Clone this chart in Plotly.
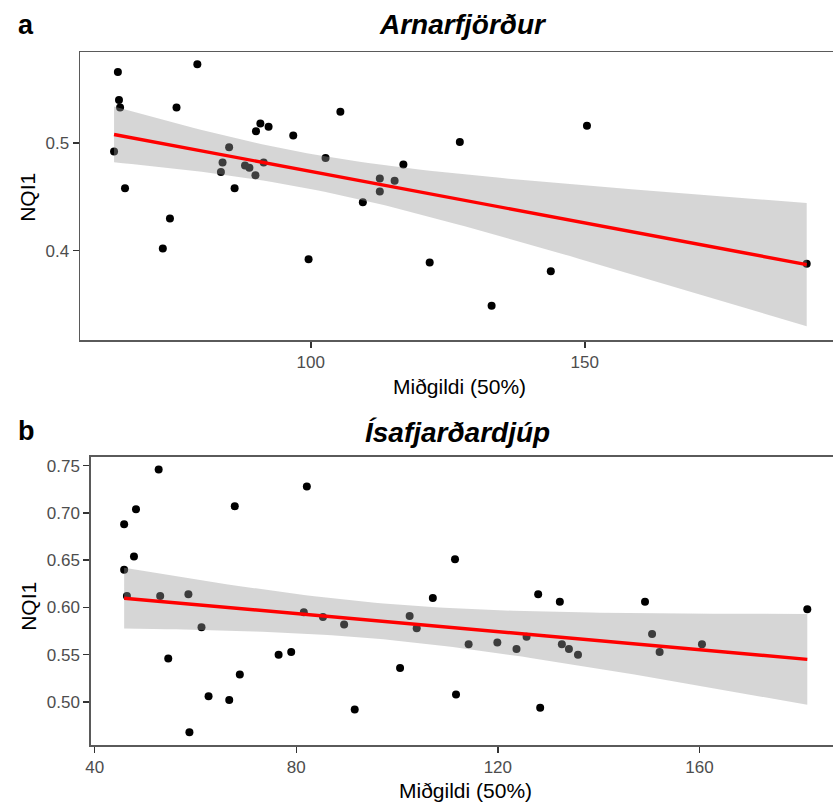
import numpy as np
import plotly.graph_objects as go

# ---- data ----
a_title = "Arnarfjörður"
a_x = [64.1, 64.8, 65.0, 65.2, 66.1, 73.0, 74.3, 75.5, 79.3, 83.6, 83.9, 85.1, 86.1, 88.0,
       88.8, 89.9, 90.0, 90.8, 91.4, 92.3, 96.8, 99.6, 102.7, 105.4, 109.5, 112.6, 112.6,
       115.3, 116.9, 121.7, 127.2, 133.0, 143.8, 150.4, 190.5]
a_y = [0.492, 0.566, 0.540, 0.533, 0.458, 0.402, 0.430, 0.533, 0.573, 0.473, 0.482, 0.496,
       0.458, 0.479, 0.477, 0.470, 0.511, 0.518, 0.482, 0.515, 0.507, 0.392, 0.486, 0.529,
       0.445, 0.467, 0.455, 0.465, 0.480, 0.389, 0.501, 0.349, 0.381, 0.516, 0.388]
a_xticks = [100, 150]
a_yticks = [0.4, 0.5]

b_title = "Ísafjarðardjúp"
b_x = [45.85, 45.85, 46.4, 47.8, 48.2, 52.7, 53.0, 54.6, 58.6, 58.8, 61.2, 62.6, 66.7, 67.8,
       68.8, 76.5, 79.0, 81.5, 82.1, 85.3, 89.5, 91.6, 100.6, 102.5, 103.9, 107.1, 111.5,
       111.7, 114.2, 119.9, 123.7, 125.7, 128.0, 128.4, 132.3, 132.7, 134.1, 135.9, 149.2,
       150.6, 152.1, 160.5, 181.4]
b_y = [0.688, 0.640, 0.612, 0.654, 0.704, 0.746, 0.612, 0.546, 0.614, 0.468, 0.579, 0.506,
       0.502, 0.707, 0.529, 0.550, 0.553, 0.595, 0.728, 0.590, 0.582, 0.492, 0.536, 0.591,
       0.578, 0.610, 0.651, 0.508, 0.561, 0.563, 0.556, 0.569, 0.614, 0.494, 0.606, 0.561,
       0.556, 0.550, 0.606, 0.572, 0.553, 0.561, 0.598]
b_xticks = [40, 80, 120, 160]
b_yticks = [0.50, 0.55, 0.60, 0.65, 0.70, 0.75]

x_label = "Miðgildi (50%)"
y_label = "NQI1"

W, H = 833, 803


def t975(df):
    z = 1.959963985
    return (z + (z**3 + z) / (4 * df) + (5 * z**5 + 16 * z**3 + 3 * z) / (96 * df**2)
            + (3 * z**7 + 19 * z**5 + 17 * z**3 - 15 * z) / (384 * df**3))


def lm_fit(x, y, n_grid=80):
    x = np.asarray(x, float)
    y = np.asarray(y, float)
    n = len(x)
    xm = x.mean()
    sxx = ((x - xm) ** 2).sum()
    b1 = ((x - xm) * (y - y.mean())).sum() / sxx
    b0 = y.mean() - b1 * xm
    resid = y - (b0 + b1 * x)
    s = np.sqrt((resid ** 2).sum() / (n - 2))
    g = np.linspace(x.min(), x.max(), n_grid)
    fit = b0 + b1 * g
    se = s * np.sqrt(1.0 / n + (g - xm) ** 2 / sxx)
    t = t975(n - 2)
    return g, fit, fit - t * se, fit + t * se


def px(x):
    return x / W


def py(y):
    return 1 - y / H


fig = go.Figure()

panels = [
    dict(x=a_x, y=a_y, xa="x", ya="y"),
    dict(x=b_x, y=b_y, xa="x2", ya="y2"),
]
for p in panels:
    fig.add_trace(go.Scatter(x=p["x"], y=p["y"], mode="markers", xaxis=p["xa"], yaxis=p["ya"],
                             marker=dict(color="black", size=8), showlegend=False,
                             hoverinfo="skip"))
    g, fit, lo, hi = lm_fit(p["x"], p["y"])
    fig.add_trace(go.Scatter(x=np.concatenate([g, g[::-1]]), y=np.concatenate([hi, lo[::-1]]),
                             mode="lines", fill="toself", fillcolor="rgba(153,153,153,0.4)",
                             line=dict(width=0), xaxis=p["xa"], yaxis=p["ya"],
                             showlegend=False, hoverinfo="skip"))
    fig.add_trace(go.Scatter(x=g, y=fit, mode="lines", line=dict(color="#FF0000", width=3.4),
                             xaxis=p["xa"], yaxis=p["ya"], showlegend=False, hoverinfo="skip"))

tick_font = dict(family="Liberation Sans, Arial, sans-serif", size=17, color="#4D4D4D")
frame = dict(showline=True, linecolor="#5a5a5a", linewidth=1.8, showgrid=False, zeroline=False,
             ticks="outside", ticklen=6, tickwidth=1.5, tickcolor="#333333", tickfont=tick_font)

fig.update_layout(
    width=W, height=H,
    margin=dict(l=0, r=0, t=0, b=0),
    paper_bgcolor="white", plot_bgcolor="white",
    xaxis=dict(domain=[px(75), 1], range=[57.97, 195.3], tickvals=a_xticks, mirror=True,
               anchor="y", **frame),
    yaxis=dict(domain=[py(340), py(52.3)], range=[0.3171, 0.5842], tickvals=a_yticks,
               tickformat=".1f", anchor="x", **frame),
    xaxis2=dict(domain=[px(85.7), 1], range=[39.29, 186.5], tickvals=b_xticks, mirror=True,
                anchor="y2", **frame),
    yaxis2=dict(domain=[py(744.7), py(456.7)], range=[0.4548, 0.7595], tickvals=b_yticks,
                tickformat=".2f", anchor="x2", **frame),
)

lab_font = dict(family="Liberation Sans, Arial, sans-serif", size=27, color="black")
title_font = dict(family="Liberation Sans, Arial, sans-serif", size=28, color="black")
axis_title_font = dict(family="Liberation Sans, Arial, sans-serif", size=21, color="black")

ann = [
    dict(text="<b>a</b>", x=px(10), y=py(25), xanchor="left", yanchor="middle", font=lab_font),
    dict(text="<b><i>" + a_title + "</i></b>", x=px(460), y=py(24), xanchor="center",
         yanchor="middle", font=title_font),
    dict(text=x_label, x=px(457), y=py(387), xanchor="center", yanchor="middle",
         font=axis_title_font),
    dict(text=y_label, x=px(22), y=py(197), xanchor="center", yanchor="middle",
         textangle=-90, font=axis_title_font),
    dict(text="<b>b</b>", x=px(10), y=py(431), xanchor="left", yanchor="middle", font=lab_font),
    dict(text="<b><i>" + b_title + "</i></b>", x=px(455), y=py(432), xanchor="center",
         yanchor="middle", font=title_font),
    dict(text=x_label, x=px(463), y=py(790), xanchor="center", yanchor="middle",
         font=axis_title_font),
    dict(text=y_label, x=px(22), y=py(606), xanchor="center", yanchor="middle",
         textangle=-90, font=axis_title_font),
]
for a in ann:
    a.update(xref="paper", yref="paper", showarrow=False)
fig.update_layout(annotations=ann)

fig.write_html("out.html",
               config={"displayModeBar": False, "staticPlot": True},
               post_script="document.body.style.margin='0px';"
                           "document.body.style.overflow='hidden';")
